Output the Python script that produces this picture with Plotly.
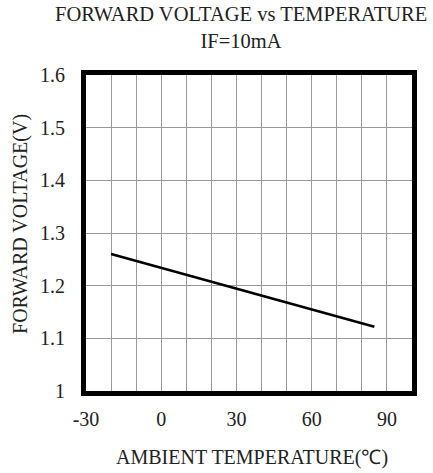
import plotly.graph_objects as go

temperature = [-20, 85]
forward_voltage = [1.26, 1.122]
x_tick_vals = [-30, 0, 30, 60, 90]
x_tick_text = ["-30", "0", "30", "60", "90"]
y_tick_vals = [1, 1.1, 1.2, 1.3, 1.4, 1.5, 1.6]
y_tick_text = ["1", "1.1", "1.2", "1.3", "1.4", "1.5", "1.6"]

FONT = "Liberation Serif"
TXT = "#222"

fig = go.Figure()
fig.add_trace(go.Scatter(x=temperature, y=forward_voltage, mode="lines",
                         line=dict(color="black", width=2.5), showlegend=False))

fig.update_layout(
    width=433, height=473,
    margin=dict(l=86, r=21, t=75, b=82, autoexpand=False),
    paper_bgcolor="white", plot_bgcolor="white",
    font=dict(family=FONT, size=20, color=TXT),
    annotations=[
        dict(text="FORWARD VOLTAGE vs TEMPERATURE<br>IF=10mA",
             xref="paper", yref="paper", x=0.475, y=1.15,
             xanchor="center", yanchor="middle", showarrow=False,
             font=dict(family=FONT, size=20.5, color=TXT)),
        dict(text="AMBIENT TEMPERATURE(℃)",
             xref="paper", yref="paper", x=0.509, y=-0.212,
             xanchor="center", yanchor="middle", showarrow=False,
             font=dict(family=FONT, size=20, color=TXT)),
        dict(text="FORWARD VOLTAGE(V)", textangle=-90,
             xref="paper", yref="paper", x=-0.203, y=0.528,
             xanchor="center", yanchor="middle", showarrow=False,
             font=dict(family=FONT, size=20, color=TXT)),
    ],
)
fig.update_xaxes(
    range=[-30, 100], tickvals=x_tick_vals, ticktext=x_tick_text, ticks="",
    showgrid=False,
    minor=dict(dtick=10, tick0=-30, showgrid=True, gridcolor="#999", gridwidth=1, ticks=""),
    showline=True, mirror=True, linecolor="black", linewidth=5,
    zeroline=False, automargin=False, ticklabelstandoff=6,
    tickfont=dict(size=20),
)
fig.update_yaxes(
    range=[1, 1.6], tickvals=y_tick_vals, ticktext=y_tick_text, ticks="",
    showgrid=True, gridcolor="#999", gridwidth=1,
    showline=True, mirror=True, linecolor="black", linewidth=5,
    zeroline=False, automargin=False, ticklabelstandoff=12,
    tickfont=dict(size=20),
)

fig.write_html("out.html", config={"displayModeBar": False},
               post_script="document.body.style.margin='0';")
